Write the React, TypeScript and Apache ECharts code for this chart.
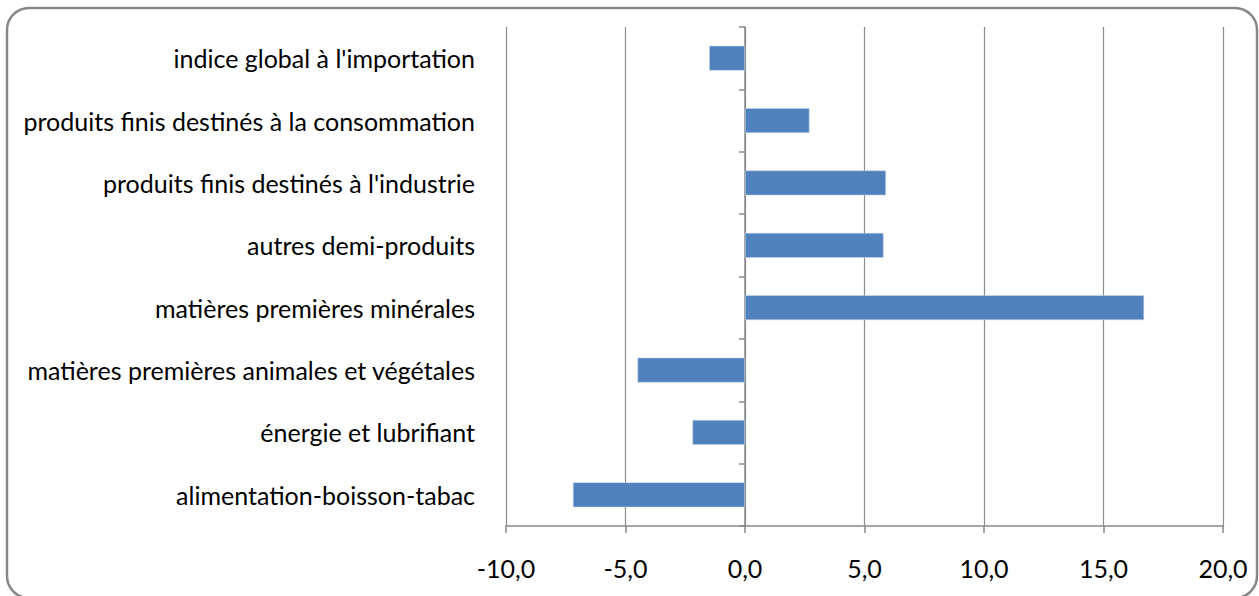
import React, { useEffect, useRef } from "react";
import * as echarts from "echarts";

const categories = [
  "alimentation-boisson-tabac",
  "énergie et lubrifiant",
  "matières premières animales et végétales",
  "matières premières minérales",
  "autres demi-produits",
  "produits finis destinés à l'industrie",
  "produits finis destinés à la consommation",
  "indice global à l'importation",
];
const values = [-7.2, -2.2, -4.5, 16.7, 5.8, 5.9, 2.7, -1.5];
const xMin = -10;
const xMax = 20;
const xStep = 5;

export default function App() {
  const ref = useRef<HTMLDivElement>(null);
  useEffect(() => {
    document.body.style.margin = "0";
    const chart = echarts.init(ref.current!, null, { renderer: "svg" });
    const font = "Lato, 'Open Sans', sans-serif";
    chart.setOption({
      animation: false,
      backgroundColor: "#ffffff",
      graphic: [
        {
          type: "rect",
          shape: { x: 7, y: 8, width: 1250, height: 590, r: 22 },
          style: { fill: "none", stroke: "#878787", lineWidth: 2.5 },
          z: 100,
        },
      ],
      grid: { left: 506, right: 36, top: 27, bottom: 70, containLabel: false },
      xAxis: {
        type: "value",
        min: xMin,
        max: xMax,
        interval: xStep,
        axisLine: { show: true, onZero: false, lineStyle: { color: "#888888", width: 1.5 } },
        axisTick: { show: true, length: 7, lineStyle: { color: "#888888", width: 1.5 } },
        splitLine: { show: true, lineStyle: { color: "#8c8c8c", width: 1.2 } },
        axisLabel: {
          margin: 29,
          color: "#000",
          fontSize: 25,
          fontFamily: font,
          formatter: (v: number) => v.toFixed(1).replace(".", ","),
        },
      },
      yAxis: [
        {
          type: "category",
          data: categories,
          position: "left",
          axisLine: { show: false, onZero: false },
          axisTick: { show: false },
          axisLabel: { margin: 31, color: "#000", fontSize: 25, fontFamily: font },
        },
        {
          type: "category",
          data: categories,
          position: "left",
          axisLine: { show: true, onZero: true, onZeroAxisIndex: 0, lineStyle: { color: "#888888", width: 1.5 } },
          axisTick: { show: true, length: 6, lineStyle: { color: "#888888", width: 1.5 } },
          axisLabel: { show: false },
        },
      ],
      series: [
        {
          type: "bar",
          data: values,
          yAxisIndex: 0,
          barWidth: "40%",
          itemStyle: { color: "#4F81BD", borderColor: "#c8d6ea", borderWidth: 0.6 },
        },
      ],
    });
    return () => chart.dispose();
  }, []);
  return <div ref={ref} style={{ width: 1259, height: 596 }} />;
}
